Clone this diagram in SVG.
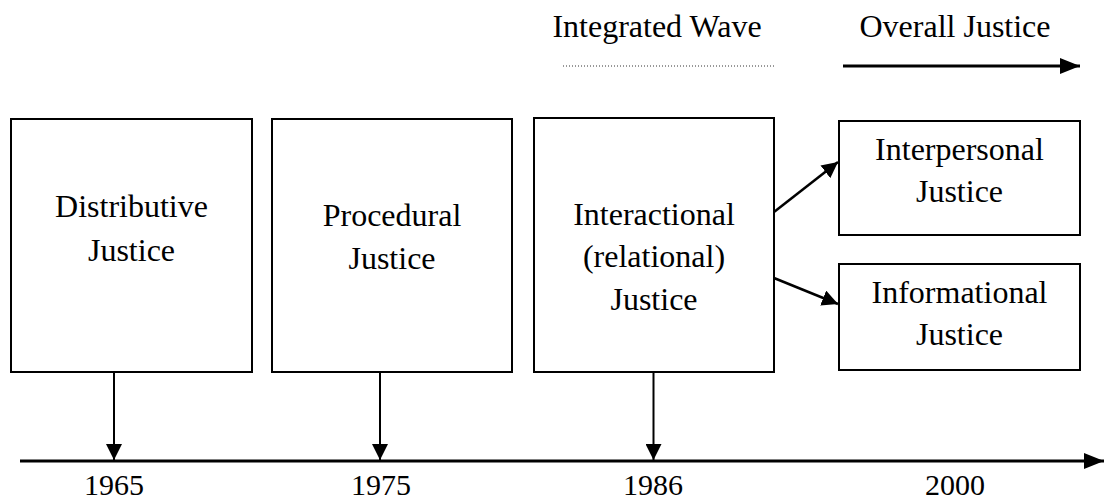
<svg xmlns="http://www.w3.org/2000/svg" width="1104" height="502" viewBox="0 0 1104 502">
<style>
  .box { fill: #ffffff; stroke: #000000; stroke-width: 2; }
  .lbl { font-family: "Liberation Serif", "Times New Roman", serif; font-size: 32px; fill: #000000; text-anchor: middle; }
  .yr { font-family: "Liberation Serif", "Times New Roman", serif; font-size: 30px; fill: #000000; text-anchor: middle; }
  .conn { stroke: #000000; stroke-width: 2; fill: none; }
  .diag { stroke: #000000; stroke-width: 2.5; fill: none; }
</style>
<defs>
  <marker id="ah" markerUnits="userSpaceOnUse" markerWidth="16" markerHeight="16" refX="16" refY="8" orient="auto">
    <path d="M0,0 L16,8 L0,16 z" fill="#000000"/>
  </marker>
  <marker id="ahBig" markerUnits="userSpaceOnUse" markerWidth="20" markerHeight="16" refX="20" refY="8" orient="auto">
    <path d="M0,0 L20,8 L0,16 z" fill="#000000"/>
  </marker>
</defs>
<rect width="1104" height="502" fill="#ffffff"/>

<g id="header">
  <text class="lbl" x="657" y="37">Integrated Wave</text>
  <line x1="563" y1="66" x2="774" y2="66" stroke="#333333" stroke-width="1" stroke-dasharray="1,2"/>
  <text class="lbl" x="955" y="37">Overall Justice</text>
</g>

<g id="n-distributive">
  <rect class="box" x="11" y="119" width="241" height="253"/>
  <text class="lbl" x="131.5" y="217">Distributive</text>
  <text class="lbl" x="131.5" y="261">Justice</text>
</g>
<g id="n-procedural">
  <rect class="box" x="272" y="119" width="240" height="253"/>
  <text class="lbl" x="392" y="226">Procedural</text>
  <text class="lbl" x="392" y="269">Justice</text>
</g>
<g id="n-interactional">
  <rect class="box" x="534" y="118" width="240" height="254"/>
  <text class="lbl" x="654" y="225">Interactional</text>
  <text class="lbl" x="654" y="267">(relational)</text>
  <text class="lbl" x="654" y="310">Justice</text>
</g>
<g id="n-interpersonal">
  <rect class="box" x="839" y="121" width="241" height="114"/>
  <text class="lbl" x="959.5" y="160">Interpersonal</text>
  <text class="lbl" x="959.5" y="202">Justice</text>
</g>
<g id="n-informational">
  <rect class="box" x="839" y="264" width="241" height="106"/>
  <text class="lbl" x="959.5" y="303">Informational</text>
  <text class="lbl" x="959.5" y="345">Justice</text>
</g>

<g id="timeline">
  <text class="yr" x="114" y="495">1965</text>
  <text class="yr" x="381" y="495">1975</text>
  <text class="yr" x="653" y="495">1986</text>
  <text class="yr" x="955" y="495">2000</text>
</g>

<g id="connectors">
  <line x1="843" y1="66" x2="1080" y2="66" stroke="#000000" stroke-width="3" marker-end="url(#ahBig)"/>
  <line class="diag" x1="774" y1="212" x2="838" y2="162" marker-end="url(#ah)"/>
  <line class="diag" x1="774" y1="278" x2="838" y2="304" marker-end="url(#ah)"/>
  <line class="conn" x1="114" y1="372" x2="114" y2="460" marker-end="url(#ah)"/>
  <line class="conn" x1="380" y1="372" x2="380" y2="460" marker-end="url(#ah)"/>
  <line class="conn" x1="653.5" y1="372" x2="653.5" y2="460" marker-end="url(#ah)"/>
  <line x1="20" y1="461" x2="1104" y2="461" stroke="#000000" stroke-width="3" marker-end="url(#ahBig)"/>
</g>
</svg>
